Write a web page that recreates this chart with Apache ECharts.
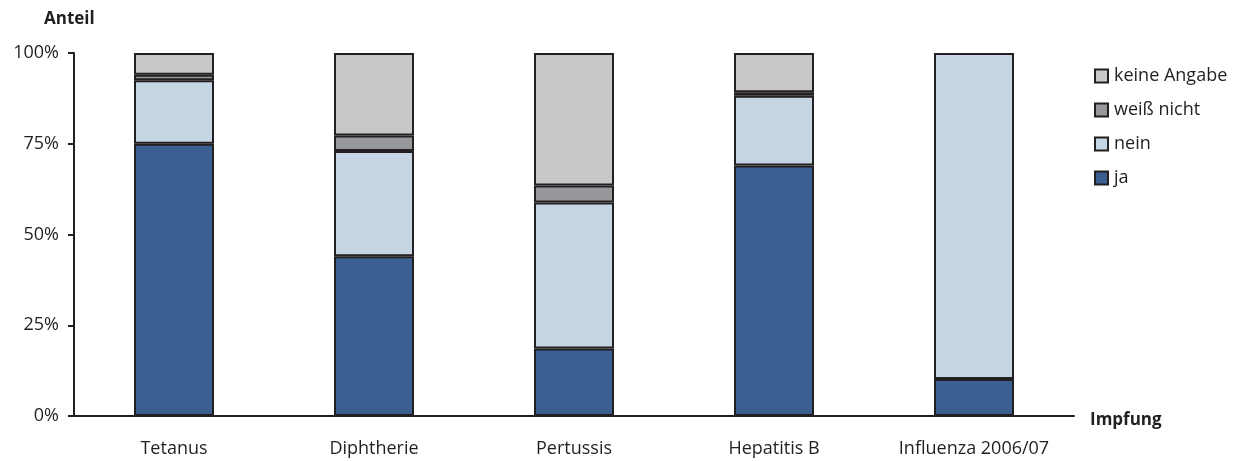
<!DOCTYPE html>
<html>
<head>
<meta charset="utf-8">
<script src="https://cdn.jsdelivr.net/npm/echarts@6/dist/echarts.min.js"></script>
<style>
  html, body { margin: 0; padding: 0; background: #fff; }
  #chart { width: 1236px; height: 461px; }
</style>
</head>
<body>
<div id="chart"></div>
<script>
// Impfstatus nach Impfung (Anteile in %)
const categories = ['Tetanus', 'Diphtherie', 'Pertussis', 'Hepatitis B', 'Influenza 2006/07'];
const ja          = [75.0, 44.0, 18.6, 69.0, 10.2];
const nein        = [17.5, 29.0, 40.2, 19.2, 89.8];
const weissNicht  = [1.5, 4.3, 4.7, 1.0, 0];
const keineAngabe = [6.0, 22.7, 36.5, 10.8, 0];
const yTicks = ['0%', '25%', '50%', '75%', '100%'];

const FONT = '"Open Sans", "DejaVu Sans", sans-serif';
const EDGE = '#231f20';
const TEXT = '#231f20';

function stackSeries(name, data, color) {
  return {
    name: name,
    type: 'bar',
    stack: 'total',
    barWidth: 80,
    // empty segments are skipped so they leave no extra outline on the bar top
    data: data.map(function (v) { return v === 0 ? null : v; }),
    itemStyle: { color: color, borderColor: EDGE, borderWidth: 2 },
    emphasis: { disabled: true }
  };
}

const chart = echarts.init(document.getElementById('chart'), null, { renderer: 'canvas' });
chart.setOption({
  animation: false,
  backgroundColor: '#ffffff',
  grid: { left: 74, right: 162, top: 53, bottom: 45 },
  title: [
    { text: 'Anteil', left: 39, top: 6,
      textStyle: { fontFamily: FONT, fontSize: 17, fontWeight: 'bold', color: TEXT } },
    { text: 'Impfung', left: 1085, top: 407,
      textStyle: { fontFamily: FONT, fontSize: 17, fontWeight: 'bold', color: TEXT } }
  ],
  legend: {
    orient: 'vertical',
    left: 1089,
    top: 62,
    data: ['keine Angabe', 'weiß nicht', 'nein', 'ja'],
    icon: 'rect',
    itemWidth: 13,
    itemHeight: 13,
    itemGap: 16,
    selectedMode: false,
    itemStyle: { borderColor: EDGE, borderWidth: 2 },
    textStyle: { fontFamily: FONT, fontSize: 18, lineHeight: 16, color: TEXT, padding: [0, 0, 0, 1] }
  },
  xAxis: {
    type: 'category',
    data: categories,
    axisLine: { show: true, lineStyle: { color: EDGE, width: 2 } },
    axisTick: { show: false },
    axisLabel: { fontFamily: FONT, fontSize: 18, color: TEXT, margin: 24 }
  },
  yAxis: {
    type: 'value',
    min: 0,
    max: 100,
    interval: 25,
    axisLine: { show: true, lineStyle: { color: EDGE, width: 2 } },
    axisTick: { show: true, length: 6, lineStyle: { color: EDGE, width: 2 } },
    splitLine: { show: false },
    axisLabel: {
      fontFamily: FONT, fontSize: 18, color: TEXT, margin: 15,
      formatter: function (v) { return yTicks[Math.round(v / 25)]; }
    }
  },
  series: [
    stackSeries('ja', ja, '#3c5f91'),
    stackSeries('nein', nein, '#c5d5e3'),
    stackSeries('weiß nicht', weissNicht, '#97989c'),
    stackSeries('keine Angabe', keineAngabe, '#c8c8ca')
  ]
});
</script>
</body>
</html>
